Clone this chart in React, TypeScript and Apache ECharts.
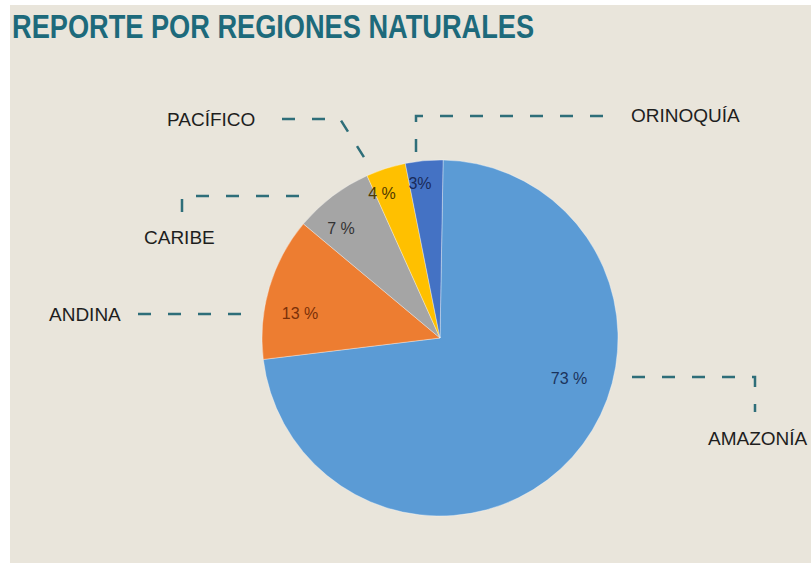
import { useEffect, useRef } from "react";
import * as echarts from "echarts";

// ---- data (shares; labels are rounded) ----
const categories = ["AMAZONÍA", "ANDINA", "CARIBE", "PACÍFICO", "ORINOQUÍA"];
const values = [72.8, 13.0, 7.2, 3.6, 3.4];
const pctSpace = [" ", " ", " ", " ", ""];
const chartTitle = "REPORTE POR REGIONES NATURALES";

// ---- styles / layout ----
const sliceColors = ["#5B9BD5", "#ED7D31", "#A5A5A5", "#FFC000", "#4472C4"];
const pctColors = ["#1B335C", "#7A3008", "#333333", "#4F3A00", "#1A2A58"];
const pctPos: number[][] = [
  [569, 378],
  [300, 313],
  [341, 228],
  [382, 193],
  [420, 183],
];
const namePos: number[][] = [
  [708, 438],
  [49, 314],
  [144, 237],
  [167, 119],
  [631, 115],
];
const leaders: number[][][] = [
  [[632, 377], [755, 377], [755, 412]],
  [[138, 314], [255, 314]],
  [[182, 212], [182, 196], [315, 196]],
  [[282, 119], [340, 119], [372, 170]],
  [[416, 152], [416, 116], [620, 116]],
];

const FONT = "'Liberation Sans', Arial, sans-serif";

export default function App() {
  const ref = useRef<HTMLDivElement>(null);

  useEffect(() => {
    if (!ref.current) return;
    const chart = echarts.init(ref.current, undefined, { renderer: "svg" });

    const pieCommon = {
      type: "pie" as const,
      center: [440, 338],
      radius: 178,
      startAngle: 89,
      clockwise: true,
      avoidLabelOverlap: false,
      silent: true,
      emphasis: { disabled: true },
    };

    chart.setOption({
      animation: false,
      backgroundColor: "#ffffff",
      graphic: [
        {
          type: "rect",
          z: -10,
          shape: { x: 10, y: 5, width: 801, height: 558 },
          style: { fill: "#E9E5DB" },
        },
        {
          type: "text",
          x: 12,
          y: 26,
          scaleX: 0.8,
          style: {
            text: chartTitle,
            fontSize: 34,
            fontWeight: "bold",
            fontFamily: FONT,
            fill: "#1D6A7B",
            align: "left",
            verticalAlign: "middle",
          },
        },
      ],
      series: [
        {
          ...pieCommon,
          itemStyle: { borderColor: "rgba(255,255,255,0.5)", borderWidth: 0.7 },
          label: {
            show: true,
            position: "inside",
            fontSize: 16,
            fontFamily: FONT,
            formatter: (p: any) =>
              `${Math.round(p.value)}${pctSpace[p.dataIndex]}%`,
          },
          labelLine: { show: false },
          labelLayout: (p: any) => ({
            x: pctPos[p.dataIndex][0],
            y: pctPos[p.dataIndex][1],
            align: "center",
            verticalAlign: "middle",
          }),
          data: categories.map((c, i) => ({
            name: c,
            value: values[i],
            itemStyle: { color: sliceColors[i] },
            label: { color: pctColors[i] },
          })),
        },
        {
          ...pieCommon,
          z: 3,
          itemStyle: { color: "rgba(0,0,0,0)" },
          label: {
            show: true,
            position: "outside",
            fontSize: 19,
            fontFamily: FONT,
            color: "#1E1E1E",
            formatter: "{b}",
          },
          labelLine: {
            show: true,
            smooth: false,
            lineStyle: { color: "#2E6E79", width: 2.5, type: [13, 17] },
          },
          labelLayout: (p: any) => ({
            x: namePos[p.dataIndex][0],
            y: namePos[p.dataIndex][1],
            align: "left",
            verticalAlign: "middle",
            labelLinePoints: leaders[p.dataIndex],
          }),
          data: categories.map((c, i) => ({ name: c, value: values[i] })),
        },
      ],
    });

    return () => chart.dispose();
  }, []);

  return (
    <div
      ref={ref}
      style={{ position: "fixed", left: 0, top: 0, width: 811, height: 565 }}
    />
  );
}
